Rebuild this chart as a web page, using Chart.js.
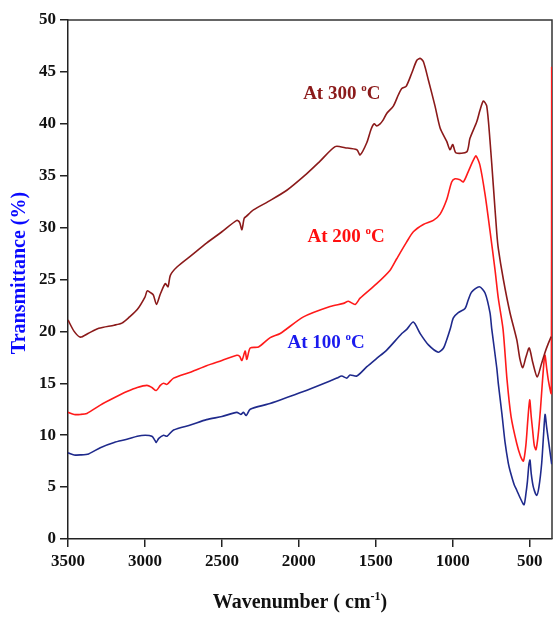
<!DOCTYPE html>
<html>
<head>
<meta charset="utf-8">
<script src="https://cdn.jsdelivr.net/npm/chart.js@4"></script>
<style>
  html, body { margin: 0; padding: 0; background: #fff; }
</style>
</head>
<body>
<canvas id="chart" width="553" height="639"></canvas>
<script>
// wavenumber (cm-1) and transmittance (%)
const wn300 = [3500, 3460, 3420, 3370, 3300, 3200, 3150, 3100, 3050, 3000, 2985, 2960, 2945, 2925, 2900, 2868, 2850, 2835, 2792, 2700, 2600, 2500, 2403, 2385, 2370, 2355, 2340, 2295, 2200, 2078, 1948, 1862, 1764, 1700, 1623, 1602, 1558, 1530, 1510, 1495, 1472, 1455, 1429, 1386, 1353, 1331, 1303, 1266, 1234, 1212, 1191, 1158, 1115, 1082, 1039, 1018, 1000, 979, 909, 888, 844, 823, 801, 779, 758, 736, 714, 704, 671, 628, 584, 563, 545, 525, 503, 480, 451, 425, 400, 380, 360];
const t300 = [21.1, 20.0, 19.45, 19.8, 20.3, 20.6, 20.8, 21.4, 22.1, 23.3, 23.9, 23.7, 23.5, 22.6, 23.6, 24.6, 24.3, 25.4, 26.2, 27.3, 28.5, 29.6, 30.7, 30.5, 29.8, 30.9, 31.1, 31.7, 32.5, 33.6, 35.2, 36.4, 37.8, 37.7, 37.5, 37.0, 38.2, 39.5, 40.0, 39.8, 40.0, 40.3, 41.0, 41.7, 42.8, 43.4, 43.6, 44.9, 46.1, 46.3, 46.0, 44.2, 41.7, 39.6, 38.3, 37.5, 38.0, 37.2, 37.3, 38.6, 40.2, 41.3, 42.2, 41.7, 38.4, 34.0, 29.5, 28.0, 25.0, 21.8, 19.2, 17.3, 16.5, 17.5, 18.4, 17.0, 15.6, 16.8, 18.0, 18.8, 19.5];

const wn200 = [3500, 3460, 3420, 3377, 3290, 3200, 3117, 3050, 2987, 2955, 2927, 2900, 2879, 2857, 2814, 2700, 2600, 2500, 2403, 2385, 2370, 2349, 2338, 2316, 2262, 2186, 2121, 1970, 1797, 1710, 1678, 1634, 1602, 1494, 1407, 1364, 1300, 1256, 1191, 1126, 1082, 1039, 1007, 985, 953, 931, 899, 866, 849, 823, 790, 758, 725, 704, 673, 647, 621, 584, 560, 541, 525, 512, 500, 490, 481, 470, 459, 445, 430, 418, 405, 400, 390, 379, 363, 359, 357];
const t200 = [12.2, 12.0, 12.0, 12.1, 12.9, 13.6, 14.2, 14.6, 14.8, 14.6, 14.3, 14.8, 15.0, 14.9, 15.5, 16.1, 16.7, 17.2, 17.7, 17.6, 17.2, 18.1, 17.3, 18.4, 18.5, 19.4, 19.8, 21.4, 22.4, 22.7, 22.9, 22.6, 23.2, 24.6, 25.9, 27.0, 28.6, 29.6, 30.3, 30.7, 31.3, 32.7, 34.4, 34.7, 34.6, 34.4, 35.4, 36.5, 36.9, 36.0, 33.2, 29.7, 25.9, 23.2, 20.2, 15.3, 11.8, 9.2, 8.0, 7.5, 9.0, 11.5, 13.4, 11.8, 10.5, 9.0, 8.6, 10.0, 12.5, 15.0, 17.4, 17.7, 16.5, 15.3, 14.1, 14.0, 45.5];

const wn100 = [3500, 3460, 3420, 3366, 3290, 3200, 3117, 3050, 2998, 2955, 2935, 2927, 2910, 2879, 2857, 2814, 2700, 2600, 2500, 2403, 2377, 2360, 2342, 2316, 2200, 2121, 1970, 1850, 1753, 1721, 1688, 1667, 1623, 1558, 1494, 1429, 1331, 1299, 1256, 1212, 1158, 1094, 1060, 1039, 1015, 996, 964, 920, 900, 877, 827, 790, 758, 747, 714, 704, 680, 660, 639, 628, 600, 584, 560, 537, 525, 515, 505, 498, 490, 476, 455, 440, 422, 410, 400, 390, 379, 357];
const t100 = [8.3, 8.1, 8.1, 8.2, 8.8, 9.3, 9.6, 9.9, 10.0, 9.9, 9.5, 9.3, 9.7, 10.0, 9.9, 10.5, 11.0, 11.5, 11.8, 12.2, 12.0, 12.2, 11.9, 12.5, 13.0, 13.4, 14.2, 14.9, 15.5, 15.7, 15.5, 15.8, 15.7, 16.6, 17.4, 18.2, 19.8, 20.2, 20.9, 19.8, 18.7, 18.0, 18.4, 19.2, 20.3, 21.3, 21.8, 22.2, 23.0, 23.8, 24.3, 23.7, 21.8, 20.3, 16.5, 15.0, 12.0, 9.3, 7.3, 6.6, 5.2, 4.7, 3.9, 3.3, 4.3, 5.5, 7.2, 7.6, 6.3, 5.0, 4.2, 5.0, 7.3, 10.0, 12.0, 10.8, 9.6, 7.2];

const xTicks = [3500, 3000, 2500, 2000, 1500, 1000, 500];
const yTicks = [0, 5, 10, 15, 20, 25, 30, 35, 40, 45, 50];

// curve labels, anchored in data units (left edge / baseline)
const curveLabels = [
  { temp: '300', wn: 1972, t: 42.4, color: '#8b1a1a' },
  { temp: '200', wn: 1944, t: 28.6, color: '#ff1010' },
  { temp: '100', wn: 2074, t: 18.4, color: '#1a1aee' }
];

const serif = '"Liberation Serif", "Times New Roman", serif';

function toPoints(xs, ys) {
  return xs.map((x, i) => ({ x: x, y: ys[i] }));
}

// draws text with a raised small piece, e.g. "o" in °C or "-1" in cm-1
function drawParts(ctx, parts, x, y, size, align) {
  let total = 0;
  parts.forEach(p => {
    ctx.font = 'bold ' + (p.sup ? Math.round(size * 0.6) : size) + 'px ' + serif;
    p.w = ctx.measureText(p.text).width;
    total += p.w;
  });
  let cx = align === 'center' ? x - total / 2 : x;
  ctx.textAlign = 'left';
  ctx.textBaseline = 'alphabetic';
  parts.forEach(p => {
    ctx.font = 'bold ' + (p.sup ? Math.round(size * 0.6) : size) + 'px ' + serif;
    ctx.fillText(p.text, cx, p.sup ? y - size * 0.42 : y);
    cx += p.w;
  });
}

const framePlugin = {
  id: 'frame',
  beforeDatasetsDraw(chart) {
    const { ctx, chartArea: a } = chart;
    // top and right edges of the box
    ctx.save();
    ctx.strokeStyle = '#333';
    ctx.lineWidth = 1.5;
    ctx.beginPath();
    ctx.moveTo(a.left, a.top);
    ctx.lineTo(a.right, a.top);
    ctx.lineTo(a.right, a.bottom);
    ctx.stroke();
    ctx.restore();
  },
  afterDatasetsDraw(chart) {
    const { ctx, scales } = chart;
    ctx.save();
    curveLabels.forEach(l => {
      ctx.fillStyle = l.color;
      drawParts(ctx, [{ text: 'At ' + l.temp + ' ' }, { text: 'o', sup: true }, { text: 'C' }],
        scales.x.getPixelForValue(l.wn), scales.y.getPixelForValue(l.t), 19, 'left');
    });

    // axis titles
    ctx.fillStyle = '#111';
    drawParts(ctx, [{ text: 'Wavenumber ( cm' }, { text: '-1', sup: true }, { text: ')' }],
      300, 608, 20, 'center');

    ctx.translate(25, 273);
    ctx.rotate(-Math.PI / 2);
    ctx.fillStyle = '#0a0aff';
    ctx.font = 'bold 20px ' + serif;
    ctx.textAlign = 'center';
    ctx.textBaseline = 'alphabetic';
    ctx.fillText('Transmittance (%)', 0, 0);
    ctx.restore();
  }
};

const axisStyle = {
  grid: { drawOnChartArea: false, tickLength: 8, color: '#222', lineWidth: 1.5 },
  border: { color: '#222', width: 1.5 },
  ticks: {
    color: '#111',
    font: { family: serif, size: 17, weight: 'bold' },
    padding: 4,
    autoSkip: false,
    maxRotation: 0,
    callback: v => String(v)
  }
};

new Chart(document.getElementById('chart').getContext('2d'), {
  type: 'line',
  data: {
    datasets: [
      { label: 'At 300 °C', data: toPoints(wn300, t300), borderColor: '#8b1a1a', borderWidth: 1.6, pointRadius: 0, tension: 0.25 },
      { label: 'At 200 °C', data: toPoints(wn200, t200), borderColor: '#ff1a1a', borderWidth: 1.6, pointRadius: 0, tension: 0.25 },
      { label: 'At 100 °C', data: toPoints(wn100, t100), borderColor: '#1f2a8c', borderWidth: 1.6, pointRadius: 0, tension: 0.25 }
    ]
  },
  options: {
    responsive: false,
    devicePixelRatio: 1,
    animation: false,
    layout: { padding: { top: 20, right: 1, left: 0, bottom: 0 } },
    plugins: { legend: { display: false }, tooltip: { enabled: false } },
    scales: {
      x: {
        type: 'linear',
        reverse: true,
        min: 355,
        max: 3500,
        afterBuildTicks: s => { s.ticks = xTicks.map(v => ({ value: v })); },
        afterFit: s => { s.height = 100; },
        ...axisStyle
      },
      y: {
        min: 0,
        max: 50,
        afterBuildTicks: s => { s.ticks = yTicks.map(v => ({ value: v })); },
        afterFit: s => { s.width = 68; },
        ...axisStyle
      }
    }
  },
  plugins: [framePlugin]
});
</script>
</body>
</html>
